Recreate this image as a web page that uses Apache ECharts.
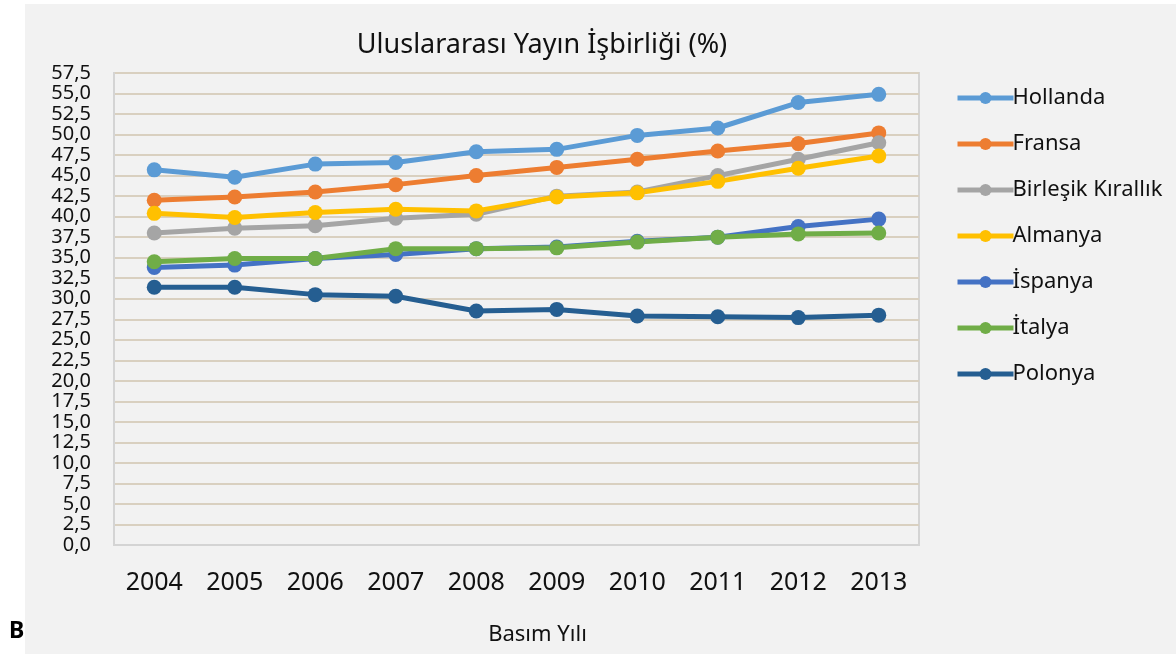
<!doctype html>
<html>
<head>
    <meta charset="utf-8">
    <title>Uluslararası Yayın İşbirliği</title>
    <script src="https://cdn.jsdelivr.net/npm/echarts@6/dist/echarts.min.js"></script>
    <style>
        html, body { margin: 0; padding: 0; background: #ffffff; }
        #main { width: 1176px; height: 654px; }
    </style>
</head>
<body>
    <div id="main"></div>
<script type="text/javascript">
    // veriler (grafikten okunan yaklaşık değerler)
    var years = ['2004', '2005', '2006', '2007', '2008', '2009', '2010', '2011', '2012', '2013'];
    var hollanda  = [45.7, 44.8, 46.4, 46.6, 47.9, 48.2, 49.9, 50.8, 53.9, 54.9];
    var fransa    = [42.0, 42.4, 43.0, 43.9, 45.0, 46.0, 47.0, 48.0, 48.9, 50.2];
    var birlesik  = [38.0, 38.6, 38.9, 39.8, 40.3, 42.5, 43.0, 45.0, 47.0, 49.0];
    var almanya   = [40.4, 39.9, 40.5, 40.9, 40.7, 42.4, 42.9, 44.3, 45.9, 47.4];
    var ispanya   = [33.8, 34.1, 34.9, 35.4, 36.1, 36.3, 37.0, 37.5, 38.8, 39.7];
    var italya    = [34.5, 34.9, 34.9, 36.1, 36.1, 36.2, 36.9, 37.5, 37.9, 38.0];
    var polonya   = [31.4, 31.4, 30.5, 30.3, 28.5, 28.7, 27.9, 27.8, 27.7, 28.0];

    var names  = ['Hollanda', 'Fransa', 'Birleşik Kırallık', 'Almanya', 'İspanya', 'İtalya', 'Polonya'];
    var values = [hollanda, fransa, birlesik, almanya, ispanya, italya, polonya];
    var colors = ['#5b9bd5', '#ed7d31', '#a5a5a5', '#ffc000', '#4472c4', '#70ad47', '#255e91'];

    var font = '"Noto Sans", sans-serif';

    var myChart = echarts.init(document.getElementById('main'));

    var series = [];
    for (var i = 0; i < names.length; i++) {
        series.push({
            name: names[i],
            type: 'line',
            data: values[i],
            symbol: 'circle',
            symbolSize: 15,
            lineStyle: { width: 5 },
            itemStyle: { color: colors[i] },
            animation: false
        });
    }

    var option = {
        backgroundColor: '#ffffff',
        color: colors,
        graphic: [
            {   // gri arka plan
                type: 'rect',
                left: 25, top: 4,
                shape: { width: 1151, height: 650 },
                style: { fill: '#f2f2f2' },
                z: -10
            },
            {
                type: 'text',
                left: 9, top: 620,
                style: { text: 'B', font: 'bold 23px ' + font, fill: '#000' }
            }
        ],
        title: {
            text: 'Uluslararası Yayın İşbirliği (%)',
            left: 537,
            top: 27,
            textAlign: 'center',
            textStyle: { fontFamily: font, fontSize: 27, fontWeight: 'normal', color: '#111' }
        },
        legend: {
            orient: 'vertical',
            left: 950,
            top: 82,
            itemWidth: 56,
            itemHeight: 15,
            itemGap: 24,
            lineStyle: { width: 5 },
            textStyle: { fontFamily: font, fontSize: 22, color: '#111', padding: [0, 0, 0, -6] },
            data: names
        },
        grid: {
            left: 114, top: 73, right: 257, bottom: 109,
            show: true,
            borderColor: '#d4d4d4',
            borderWidth: 2,
            containLabel: false
        },
        xAxis: {
            type: 'category',
            data: years,
            boundaryGap: true,
            name: 'Basım Yılı',
            nameLocation: 'middle',
            nameGap: 79,
            nameTextStyle: { fontFamily: font, fontSize: 22, color: '#111', padding: [0, 0, 0, 42] },
            axisLine: { lineStyle: { color: '#d4d4d4', width: 2 } },
            axisTick: { show: false },
            axisLabel: { fontFamily: font, fontSize: 25, color: '#111', margin: 25 }
        },
        yAxis: {
            type: 'value',
            min: 0,
            max: 57.5,
            interval: 2.5,
            axisLine: { show: true, lineStyle: { color: '#d4d4d4', width: 2 } },
            axisTick: { show: false },
            axisLabel: {
                fontFamily: font, fontSize: 20, lineHeight: 20, color: '#111', margin: 23,
                showMinLabel: true, showMaxLabel: true, hideOverlap: false,
                formatter: function (v) { return v.toFixed(1).replace('.', ','); }
            },
            splitLine: { lineStyle: { color: '#d9d0c0', width: 2 } }
        },
        series: series
    };

    myChart.setOption(option);
</script>
</body>
</html>
